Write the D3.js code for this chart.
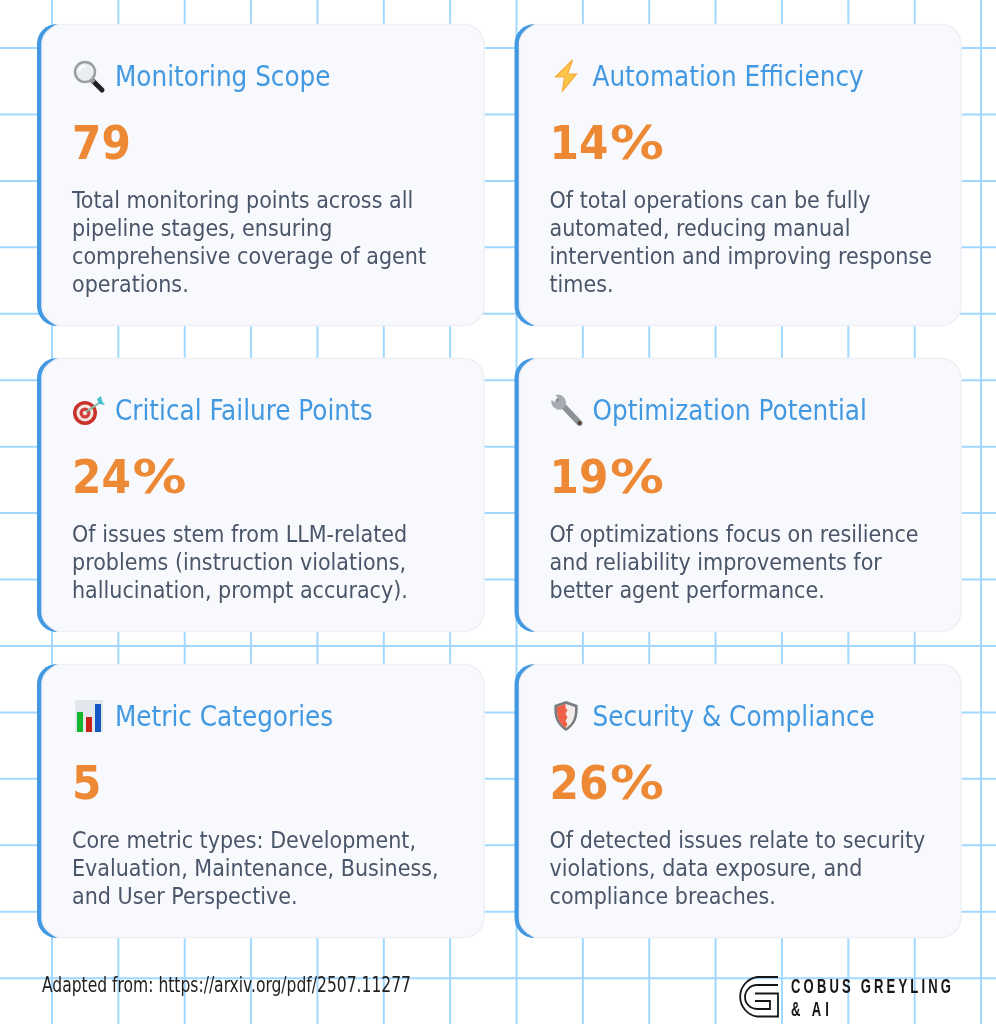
<!DOCTYPE html>
<html><head><meta charset="utf-8">
<script src="https://cdn.jsdelivr.net/npm/d3@7/dist/d3.min.js"></script>
<style>html,body{margin:0;padding:0;background:#fff;overflow:hidden}svg{display:block}</style>
</head><body><svg id="c" width="996" height="1024"></svg>
<script>
const titles=["Monitoring Scope","Automation Efficiency","Critical Failure Points","Optimization Potential","Metric Categories","Security & Compliance"];
const icons=["search","bolt","target","wrench","bars","shield"];
const values=[79,14,24,19,5,26];
const suffixes=["","%","%","%","","%"];
const descriptions=[
["Total monitoring points across all","pipeline stages, ensuring","comprehensive coverage of agent","operations."],
["Of total operations can be fully","automated, reducing manual","intervention and improving response","times."],
["Of issues stem from LLM-related","problems (instruction violations,","hallucination, prompt accuracy)."],
["Of optimizations focus on resilience","and reliability improvements for","better agent performance."],
["Core metric types: Development,","Evaluation, Maintenance, Business,","and User Perspective."],
["Of detected issues relate to security","violations, data exposure, and","compliance breaches."]];
const footnote="Adapted from: https://arxiv.org/pdf/2507.11277";
const brand=["COBUS GREYLING","& AI"];

const svg=d3.select("#c");
const defs=svg.append("defs");
defs.append("filter").attr("id","soft").attr("x","-5%").attr("y","-5%").attr("width","110%").attr("height","110%")
  .append("feGaussianBlur").attr("stdDeviation",0.55);

const gx=d3.scaleLinear().domain([0,1]).range([52,118.36]);
const gy=d3.scaleLinear().domain([0,1]).range([48,114.44]);
const grid=svg.append("g").attr("stroke","#a2d8ff").attr("stroke-width",2);
grid.selectAll("line.v").data(d3.range(0,15)).join("line").attr("class","v")
  .attr("x1",gx).attr("x2",gx).attr("y1",0).attr("y2",1024);
grid.selectAll("line.h").data(d3.range(0,15)).join("line").attr("class","h")
  .attr("y1",gy).attr("y2",gy).attr("x1",0).attr("x2",996);

const colX=d3.scaleOrdinal().domain([0,1]).range([37,514.5]);
const rowY=d3.scaleOrdinal().domain([0,1,2]).range([24,358,664]);
const rowH=d3.scaleOrdinal().domain([0,1,2]).range([302,274,274]);
const cardW=d3.scaleOrdinal().domain([0,1]).range([447,446.5]);

const drawIcon={
 search(g){
  g.append("path").attr("d","M19 19L29 29").attr("stroke","#222").attr("stroke-width",5).attr("stroke-linecap","round");
  g.append("path").attr("d","M18 18L21 21").attr("stroke","#999").attr("stroke-width",4);
  g.append("circle").attr("cx",12).attr("cy",11).attr("r",10).attr("fill","#e8eef2").attr("stroke","#9a9fa3").attr("stroke-width",2.5);
  g.append("path").attr("d","M6 10A6 6 0 0 1 12 5").attr("fill","none").attr("stroke","#fff").attr("stroke-width",2);
 },
 bolt(g){
  g.append("path").attr("d","M22 -1L5 16H14L12 30L26 13H17Z").attr("fill","#fcc64a").attr("stroke","#f6a93c").attr("stroke-width",1.2);
 },
 target(g){
  g.append("circle").attr("cx",12).attr("cy",18).attr("r",12).attr("fill","#c9302c");
  g.append("circle").attr("cx",12).attr("cy",18).attr("r",8.5).attr("fill","#f4e6e4");
  g.append("circle").attr("cx",12).attr("cy",18).attr("r",5.5).attr("fill","#d2403a");
  g.append("circle").attr("cx",12).attr("cy",18).attr("r",2.2).attr("fill","#f4e6e4");
  g.append("path").attr("d","M13 17L26 8").attr("stroke","#7fb8a8").attr("stroke-width",2);
  g.append("path").attr("d","M24 4L26 9L32 10L29 6L28 1Z").attr("fill","#45bfcf");
 },
 wrench(g){
  g.append("path").attr("d","M8 6L29 28").attr("stroke","#8c9298").attr("stroke-width",6).attr("stroke-linecap","round");
  g.append("path").attr("d","M1 5A8 8 0 0 0 12 14L15 10A8 8 0 0 0 5 0L9 5L6 8Z").attr("fill","#a5abb0");
  g.append("circle").attr("cx",29).attr("cy",28).attr("r",2).attr("fill","#5a3b30");
 },
 bars(g){
  g.append("rect").attr("x",2).attr("y",-1).attr("width",28).attr("height",32).attr("fill","#e1e7ed");
  g.append("rect").attr("x",4).attr("y",11).attr("width",6).attr("height",20).attr("fill","#16b52e");
  g.append("rect").attr("x",13).attr("y",16).attr("width",6).attr("height",15).attr("fill","#c9201c");
  g.append("rect").attr("x",22).attr("y",3).attr("width",6).attr("height",28).attr("fill","#1259c3");
 },
 shield(g){
  g.append("path").attr("d","M15.5 0L27 4C28 16 25 24 15.5 30C6 24 3 16 4 4Z").attr("fill","#777c80");
  g.append("path").attr("d","M15.5 3L24.5 6C25 15 23 22 15.5 27C8 22 6 15 6.5 6Z").attr("fill","#f1ece8");
  g.append("path").attr("d","M15 3L6.5 6C6 15 8 22 15 27L17 23L15 20L17 16L15 13L17 9L15 7Z").attr("fill","#ee6146");
 }
};

const cells=titles.map((t,i)=>({i,col:i%2,row:Math.floor(i/2)}));
const card=svg.append("g").attr("filter","url(#soft)").selectAll("g.card").data(cells).join("g").attr("class","card")
  .attr("transform",d=>`translate(${colX(d.col)},${rowY(d.row)})`);

card.append("rect").attr("width",60).attr("height",d=>rowH(d.row)).attr("rx",20).attr("fill","#4299e1");
card.append("path").attr("fill","#f8f9fd").attr("stroke","#eef0f5").attr("stroke-width",1.5)
  .attr("d",d=>{const w=cardW(d.col),h=rowH(d.row),r=20;
    return `M${5+r-4},0.5H${w-r}A${r},${r} 0 0 1 ${w},${r}V${h-r}A${r},${r} 0 0 1 ${w-r},${h-.5}H${5+r-4}Q5,${h-8} 5,${h-r}V${r}Q5,8 ${5+r-4},0.5Z`});

const face="'DejaVu Sans Condensed','DejaVu Sans',sans-serif";
card.append("text").attr("class","title").attr("x",78).attr("y",62).text(d=>titles[d.i])
  .attr("font-family",face).attr("font-size",27.5).attr("fill","#4299e1");
card.append("text").attr("class","val").attr("x",35).attr("y",135).text(d=>values[d.i])
  .attr("font-family",face).attr("font-weight",700).attr("font-size",47).attr("fill","#ed8936");
card.filter(d=>suffixes[d.i]!=="").append("text").attr("class","suffix").attr("x",95.5).attr("y",135).text(d=>suffixes[d.i])
  .attr("font-family",face).attr("font-weight",700).attr("font-size",47).attr("fill","#ed8936")
  .attr("textLength",54).attr("lengthAdjust","spacingAndGlyphs");
card.each(function(d){
  d3.select(this).selectAll("text.desc").data(descriptions[d.i]).join("text").attr("class","desc")
    .attr("x",35).attr("y",(s,j)=>184+j*28).text(s=>s)
    .attr("font-family",face).attr("font-size",23).attr("fill","#4a5568");
  const ic=d3.select(this).append("g").attr("transform","translate(36,37)");
  drawIcon[icons[d.i]](ic);
});

// footer
svg.append("text").attr("x",42).attr("y",992).text(footnote).attr("filter","url(#soft)")
  .attr("font-family","'Liberation Sans Narrow','DejaVu Sans Condensed',sans-serif").attr("font-size",21).attr("fill","#222").attr("textLength",369).attr("lengthAdjust","spacingAndGlyphs");
const logo=svg.append("g").attr("fill","none").attr("stroke","#151515").attr("stroke-width",1.8).attr("filter","url(#soft)");
logo.append("path").attr("d","M778 977H757A20 20 0 0 0 757 1016.5H778V993.5H755");
logo.append("path").attr("d","M778 985H757A12 12 0 0 0 757 1009H770V1001H755");
const squeeze=0.62;
svg.append("g").attr("filter","url(#soft)").attr("transform",`translate(791,0) scale(${squeeze},1)`)
  .selectAll("text.brand").data(brand).join("text").attr("class","brand")
  .attr("x",0).attr("y",(d,i)=>993+i*23).text(d=>d)
  .attr("font-family","'Liberation Sans',sans-serif").attr("font-weight",700).attr("font-size",21).attr("fill","#151515")
  .attr("textLength",(d,i)=>(i?38:160)/squeeze).attr("lengthAdjust","spacing");
</script></body></html>
